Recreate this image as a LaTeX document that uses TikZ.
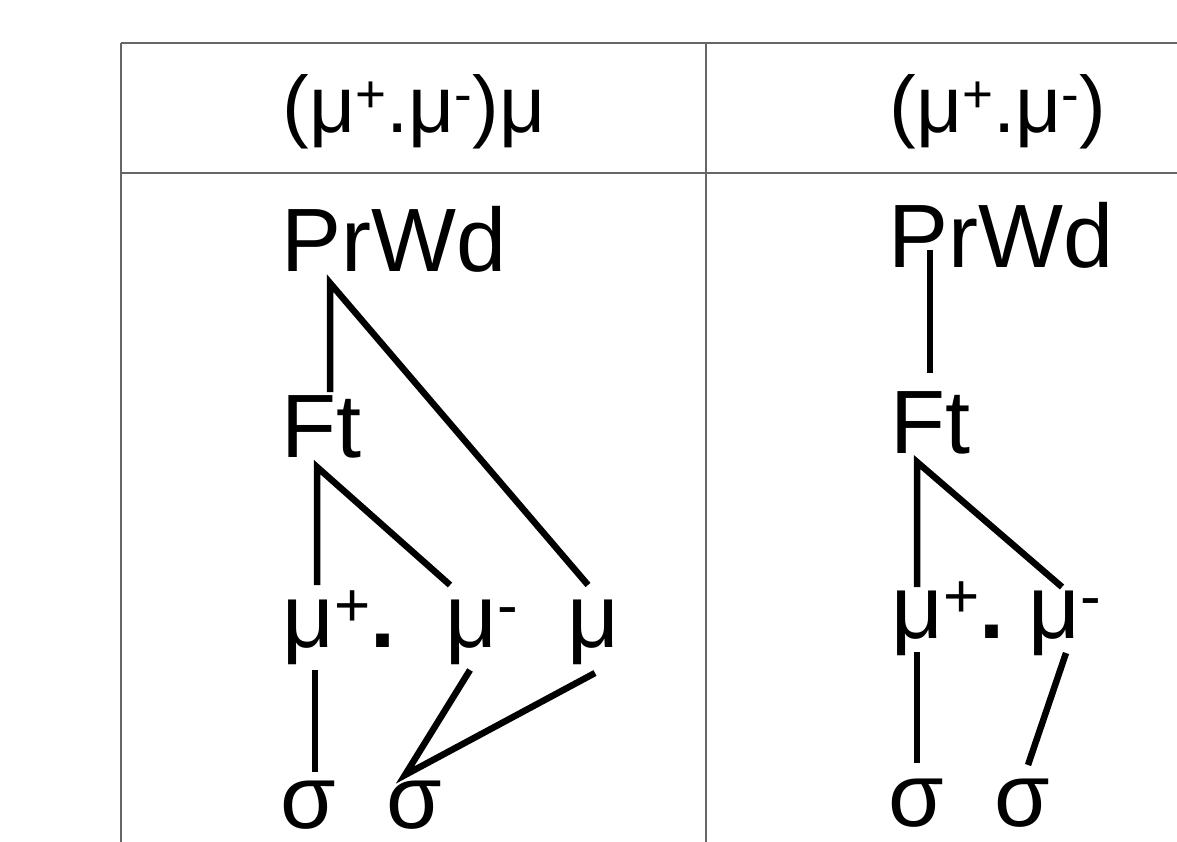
\documentclass[tikz,border=0pt]{standalone}
\usepackage{fontspec}
\setmainfont{Liberation Sans}
\usetikzlibrary{calc}
% superscripts for the header and the tree labels
\newcommand\suph[1]{\raisebox{20pt}{\fontsize{53}{56}\selectfont #1}}
\newcommand\supb[1]{\raisebox{21pt}{\fontsize{62}{66}\selectfont #1}}
\newcommand\dotb{{\bfseries .}}
\begin{document}
\begin{tikzpicture}[x=1pt,y=-1pt,
  grid/.style={draw=black!60,line width=2pt},
  head/.style={inner sep=0pt,anchor=base,font=\fontsize{80}{88}\selectfont},
  lab/.style={inner sep=0pt,anchor=base west,font=\fontsize{90}{100}\selectfont},
  branch/.style={draw=black,line width=6.5pt,line cap=butt,line join=miter}]
\useasboundingbox (0,0) rectangle (1177,842);
\fill[white] (0,0) rectangle (1177,842);

% table rules
\draw[grid] (121,43) -- (1177,43);
\draw[grid] (121,173) -- (1177,173);
\draw[grid] (121,43) -- (121,842);
\draw[grid] (706,43) -- (706,842);

% column heads
\node[head] (hl) at (414,133) {(μ\suph{+}.μ\suph{-})μ};
\node[head] (hr) at (998,133) {(μ\suph{+}.μ\suph{-})};

% left tree
\node[lab] (Lprwd) at (281,272) {PrWd};
\node[lab] (Lft)   at (281,457) {Ft};
\node[lab] (Lmu1)  at (282,647) {μ\supb{+}\dotb};
\node[lab] (Lmu2)  at (445,647) {μ\supb{-}};
\node[lab] (Lmu3)  at (567,647) {μ};
\node[lab] (Ls1)   at (280,828) {σ};
\node[lab] (Ls2)   at (386,828) {σ};

% right tree
\node[lab] (Rprwd) at (888,267) {PrWd};
\node[lab] (Rft)   at (890,453) {Ft};
\node[lab] (Rmu1)  at (891,638) {μ\supb{+}\dotb};
\node[lab] (Rmu2)  at (1028,638) {μ\supb{-}};
\node[lab] (Rs1)   at (888,826) {σ};
\node[lab] (Rs2)   at (994,826) {σ};

% attachment points of the left tree
\coordinate (LprwdB) at ($(Lprwd.base west)+(49,11)$);
\coordinate (LftT)   at ($(Lft.base west)+(49,-65)$);
\coordinate (LftB)   at ($(Lft.base west)+(36,10)$);
\coordinate (Lmu1T)  at ($(Lmu1.base west)+(35,-62)$);
\coordinate (Lmu1B)  at ($(Lmu1.base west)+(33,23)$);
\coordinate (Lmu2T)  at ($(Lmu2.base west)+(5,-62)$);
\coordinate (Lmu2B)  at ($(Lmu2.base west)+(25,23)$);
\coordinate (Lmu3T)  at ($(Lmu3.base west)+(21,-62)$);
\coordinate (Lmu3B)  at ($(Lmu3.base west)+(28,26)$);
\coordinate (Ls1T)   at ($(Ls1.base west)+(35,-56)$);
\coordinate (Ls2T)   at ($(Ls2.base west)+(19,-53)$);

\draw[branch] (LftT) -- (LprwdB) -- (Lmu3T);
\draw[branch] (Lmu1T) -- (LftB) -- (Lmu2T);
\draw[branch] (Lmu1B) -- (Ls1T);
\draw[branch] (Lmu2B) -- (Ls2T) -- (Lmu3B);

% attachment points of the right tree
\coordinate (RprwdB) at ($(Rprwd.base west)+(42,-17)$);
\coordinate (RftT)   at ($(Rft.base west)+(40,-80)$);
\coordinate (RftB)   at ($(Rft.base west)+(27,9)$);
\coordinate (Rmu1T)  at ($(Rmu1.base west)+(26,-51)$);
\coordinate (Rmu1B)  at ($(Rmu1.base west)+(26,14)$);
\coordinate (Rmu2T)  at ($(Rmu2.base west)+(34,-51)$);
\coordinate (Rmu2B)  at ($(Rmu2.base west)+(38,15)$);
\coordinate (Rs1T)   at ($(Rs1.base west)+(29,-63)$);
\coordinate (Rs2T)   at ($(Rs2.base west)+(34,-61)$);

\draw[branch] (RprwdB) -- (RftT);
\draw[branch] (Rmu1T) -- (RftB) -- (Rmu2T);
\draw[branch] (Rmu1B) -- (Rs1T);
\draw[branch] (Rmu2B) -- (Rs2T);
\end{tikzpicture}
\end{document}
